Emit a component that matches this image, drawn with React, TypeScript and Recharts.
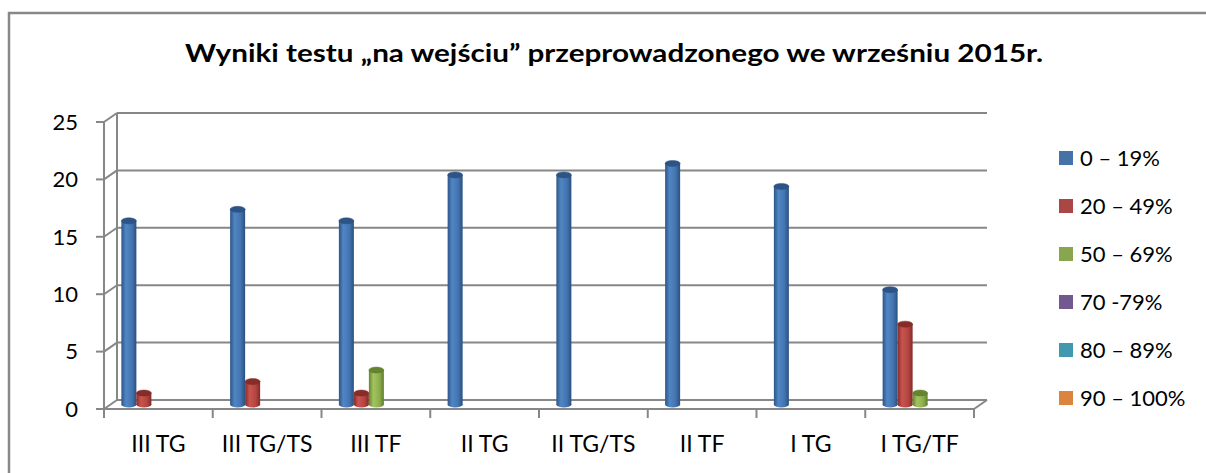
import { BarChart, Bar, XAxis, YAxis, Customized } from "recharts";

const CATEGORIES = ["III TG", "III TG/TS", "III TF", "II TG", "II TG/TS", "II TF", "I TG", "I TG/TF"];
const SERIES_NAMES = ["0 – 19%", "20 – 49%", "50 – 69%", "70 -79%", "80 – 89%", "90 – 100%"];
const S_0_19 = [16, 17, 16, 20, 20, 21, 19, 10];
const S_20_49 = [1, 2, 1, 0, 0, 0, 0, 7];
const S_50_69 = [0, 0, 3, 0, 0, 0, 0, 1];
const S_70_79 = [0, 0, 0, 0, 0, 0, 0, 0];
const S_80_89 = [0, 0, 0, 0, 0, 0, 0, 0];
const S_90_100 = [0, 0, 0, 0, 0, 0, 0, 0];
const Y_TICKS = [0, 5, 10, 15, 20, 25];
const TITLE = "Wyniki testu „na wejściu” przeprowadzonego we wrześniu 2015r.";

const SERIES_VALUES = [S_0_19, S_20_49, S_50_69, S_70_79, S_80_89, S_90_100];
const data = CATEGORIES.map((cat, i) => {
  const row: Record<string, string | number> = { cat };
  SERIES_NAMES.forEach((s, k) => (row[s] = SERIES_VALUES[k][i]));
  return row;
});

// legend / flat colours and cylinder shading (dark edge, highlight, mid, dark edge)
const LEGEND_COLORS = ["#4572A7", "#AA4643", "#89A54E", "#71588F", "#4198AF", "#DB843D"];
const SHADES = [
  ["#2d5486", "#5086c4", "#4474b0", "#2a5080"],
  ["#872c29", "#c9544f", "#b44541", "#822a27"],
  ["#66842f", "#a2c45f", "#8dae4e", "#627f2d"],
  ["#57406f", "#8a6dae", "#765b97", "#523c68"],
  ["#2c7a90", "#55b6d0", "#44a0b8", "#2a748a"],
  ["#b8642a", "#fa9e52", "#e8883c", "#b05f27"],
];

const W = 1206;
const H = 473;
const PLOT_LEFT = 104;
const PLOT_RIGHT = 974;
const PLOT_TOP = 122;
const PLOT_BOTTOM = 409;
const DX = 13; // depth offset of the back wall
const DY = -9;
const GRID = "#878787";
const FONT = "Lato, 'Open Sans', sans-serif";

const yAt = (v: number) => PLOT_BOTTOM - (v / 25) * (PLOT_BOTTOM - PLOT_TOP);

function Frame() {
  const catW = (PLOT_RIGHT - PLOT_LEFT) / CATEGORIES.length;
  return (
    <g>
      <path d={`M9 ${H} L9 13 L${W} 13`} fill="none" stroke="#888" strokeWidth={2.5} />
      <text x={614} y={62} textAnchor="middle" fontFamily={FONT} fontWeight="bold" fontSize={25} textLength={858} lengthAdjust="spacingAndGlyphs">
        {TITLE}
      </text>
      {Y_TICKS.map((v) => (
        <g key={v}>
          <line x1={PLOT_LEFT} y1={yAt(v)} x2={PLOT_LEFT + DX} y2={yAt(v) + DY} stroke={GRID} strokeWidth={2} />
          <line x1={PLOT_LEFT + DX} y1={yAt(v) + DY} x2={PLOT_RIGHT + DX} y2={yAt(v) + DY} stroke={GRID} strokeWidth={2} />
        </g>
      ))}
      <line x1={PLOT_LEFT + DX} y1={yAt(25) + DY} x2={PLOT_LEFT + DX} y2={yAt(0) + DY} stroke={GRID} strokeWidth={2} />
      <line x1={PLOT_RIGHT} y1={PLOT_BOTTOM} x2={PLOT_RIGHT + DX} y2={PLOT_BOTTOM + DY} stroke={GRID} strokeWidth={2} />
      {Array.from({ length: CATEGORIES.length + 1 }, (_, i) => (
        <line key={i} x1={PLOT_LEFT + i * catW} y1={PLOT_BOTTOM} x2={PLOT_LEFT + i * catW} y2={PLOT_BOTTOM + 9} stroke={GRID} strokeWidth={2} />
      ))}
      {SERIES_NAMES.map((s, i) => (
        <g key={s}>
          <rect x={1059} y={151 + i * 48} width={14} height={14} fill={LEGEND_COLORS[i]} />
          <text x={1080} y={166 + i * 48} fontFamily={FONT} fontSize={22} fill="#000">
            {s}
          </text>
        </g>
      ))}
    </g>
  );
}

function Cylinder(props: any) {
  const { x, y, width, height, si } = props;
  if (!height || height < 0.5) return <g />;
  const X = x + DX / 2;
  const Y = y + DY / 2;
  const rx = width / 2;
  const ry = 3;
  const [edge, , , edge2] = SHADES[si];
  return (
    <g>
      <ellipse cx={X + rx} cy={Y + height} rx={rx} ry={ry} fill={`url(#cyl${si})`} />
      <rect x={X} y={Y} width={width} height={height} fill={`url(#cyl${si})`} />
      <ellipse cx={X + rx} cy={Y} rx={rx} ry={ry} fill={edge} stroke={edge2} strokeWidth={0.5} />
    </g>
  );
}

export default function App() {
  return (
    <div style={{ position: "absolute", left: 0, top: 0, width: W, height: H, background: "#fff", overflow: "hidden" }}>
      <BarChart
        width={W}
        height={H}
        data={data}
        margin={{ top: PLOT_TOP, right: W - PLOT_RIGHT, bottom: H - PLOT_BOTTOM - 30, left: PLOT_LEFT - 60 }}
        barCategoryGap="10%"
        barGap={0}
      >
        <defs>
          {SHADES.map((c, i) => (
            <linearGradient key={i} id={`cyl${i}`} x1="0" y1="0" x2="1" y2="0">
              <stop offset="0%" stopColor={c[0]} />
              <stop offset="30%" stopColor={c[1]} />
              <stop offset="70%" stopColor={c[2]} />
              <stop offset="100%" stopColor={c[3]} />
            </linearGradient>
          ))}
        </defs>
        <Customized component={<Frame />} />
        <XAxis
          dataKey="cat"
          interval={0}
          tickLine={false}
          tickSize={8}
          tickMargin={19}
          height={30}
          axisLine={{ stroke: GRID, strokeWidth: 2 }}
          tick={{ fontSize: 23, fill: "#000", fontFamily: FONT }}
        />
        <YAxis
          type="number"
          domain={[0, 25]}
          ticks={Y_TICKS}
          interval={0}
          width={60}
          tickSize={8}
          tickMargin={18}
          axisLine={{ stroke: GRID, strokeWidth: 2 }}
          tickLine={{ stroke: GRID, strokeWidth: 2 }}
          tick={{ fontSize: 22, fill: "#000", fontFamily: FONT }}
        />
        {SERIES_NAMES.map((s, i) => (
          <Bar key={s} dataKey={s} isAnimationActive={false} fill={LEGEND_COLORS[i]} shape={(p: any) => <Cylinder {...p} si={i} />} />
        ))}
      </BarChart>
    </div>
  );
}
